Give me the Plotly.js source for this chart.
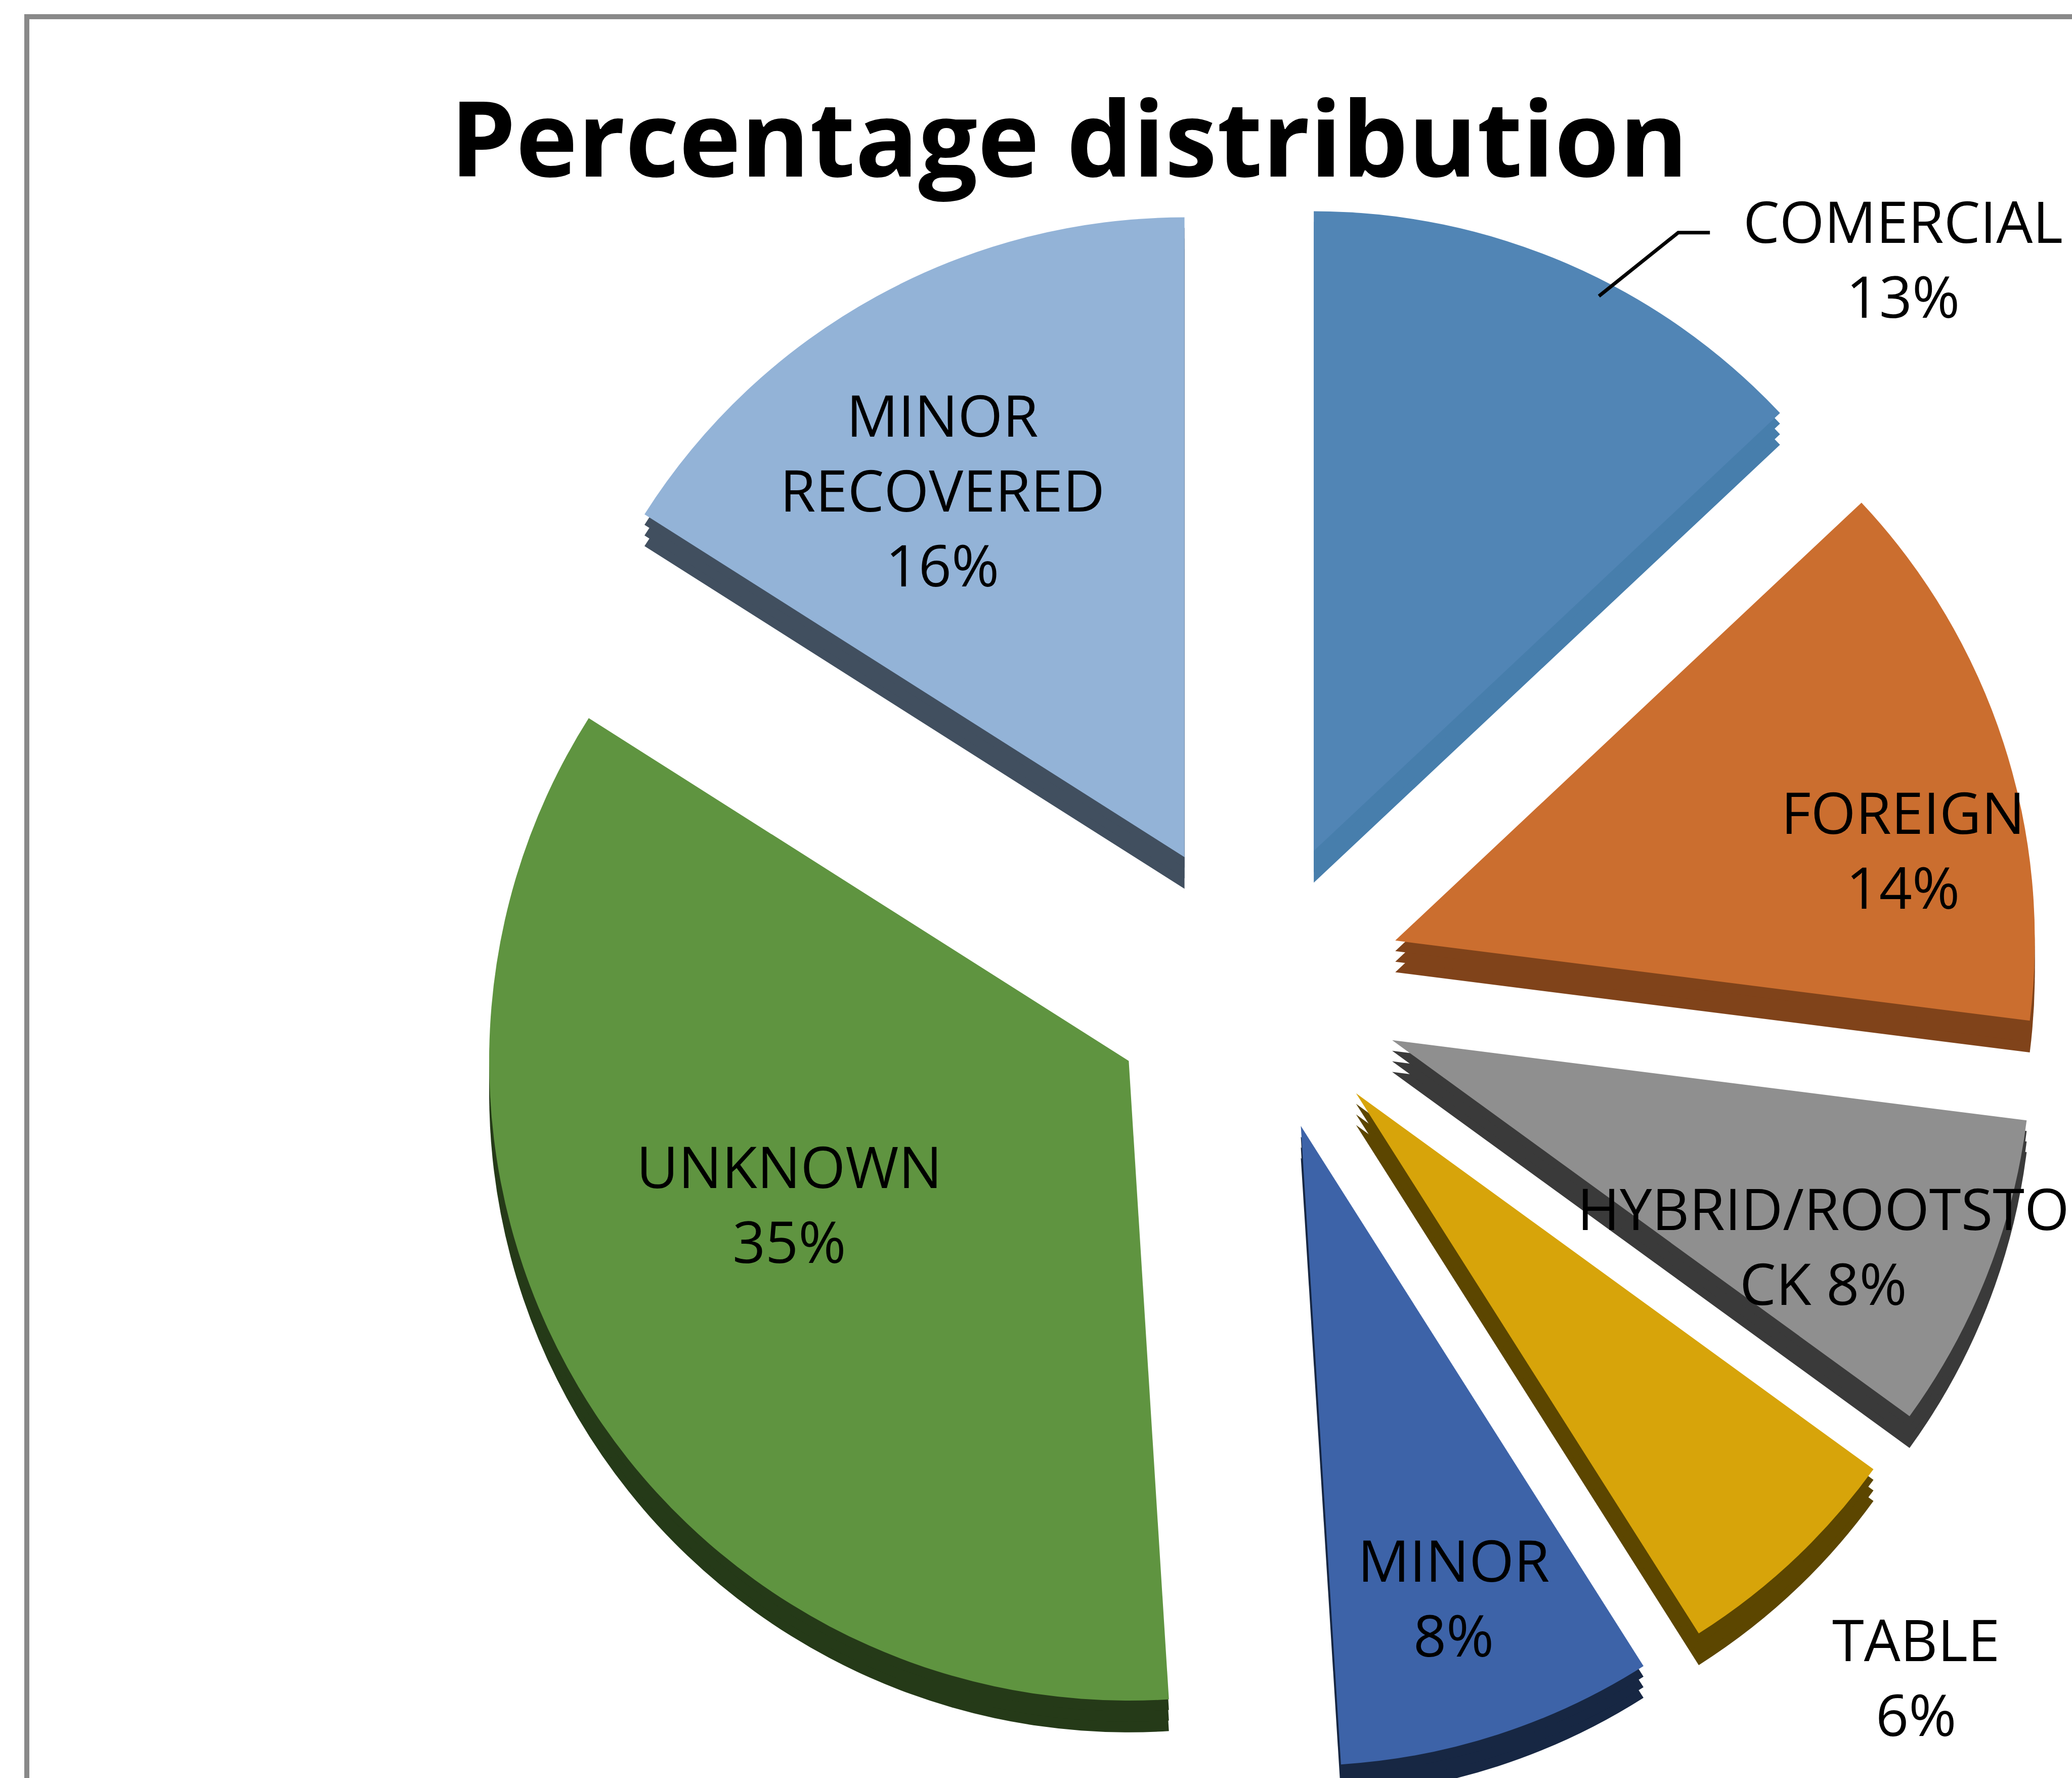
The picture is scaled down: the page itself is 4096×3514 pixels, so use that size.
<!DOCTYPE html>
<html>
<head>
<meta charset="utf-8">
<script src="https://cdn.plot.ly/plotly-3.0.1.min.js"></script>
<style>
  html, body { margin: 0; padding: 0; overflow: hidden; background: #ffffff; }
  #chart { width: 4096px; height: 3700px; }
</style>
</head>
<body>
<div id="chart"></div>
<script>
// ---- data ----
const chartTitle = 'Percentage distribution';
const categories = ['COMERCIAL', 'FOREIGN', 'HYBRID/ROOTSTOCK', 'TABLE', 'MINOR', 'UNKNOWN', 'MINOR RECOVERED'];
const values = [13, 14, 8, 6, 8, 35, 16];
const labelText = ['COMERCIAL<br>', 'FOREIGN<br>', 'HYBRID/ROOTSTO<br>CK ', 'TABLE<br>', 'MINOR<br>', 'UNKNOWN<br>', 'MINOR<br>RECOVERED<br>'];
const topColors = ['#5185B5', '#CB6E2F', '#8F8F8F', '#D7A40A', '#3D63A8', '#5F9440', '#93B3D7'];
const sideColors = ['#477EAC', '#80431A', '#3A3A3A', '#5C4600', '#172743', '#253A18', '#414F5F'];

// ---- layout geometry (reference pixels at 1568 wide, scaled) ----
const W = 4096, H = 3700;
const s = 4096 / 1568;
const pieCx = 950, pieCy = 746, pieR = 484, pullFrac = 0.23, depth = 24;
const labelPos = [[1440, 195], [1440, 642], [1380, 942], [1450, 1268], [1100, 1208], [597, 910], [713, 370]];

function px(x) { return x * s / W; }
function py(y) { return 1 - (y * s) / H; }

function pieDomain(cyShift) {
  const half = pieR * (1 + pullFrac);
  return {
    x: [px(pieCx - half), px(pieCx + half)],
    y: [py(pieCy + cyShift + half), py(pieCy + cyShift - half)]
  };
}

function pieTrace(colors, shift) {
  return {
    type: 'pie',
    labels: categories,
    values: values,
    sort: false,
    direction: 'clockwise',
    rotation: 0,
    pull: values.map(() => pullFrac),
    marker: { colors: colors, line: { width: 0 } },
    textinfo: 'none',
    hoverinfo: 'label+percent',
    showlegend: false,
    domain: pieDomain(shift)
  };
}

const traces = [
  pieTrace(sideColors, depth),
  pieTrace(sideColors, depth * 2 / 3),
  pieTrace(sideColors, depth / 3),
  pieTrace(topColors, 0)
];

const annotations = categories.map((c, i) => ({
  text: labelText[i] + values[i] + '%',
  x: px(labelPos[i][0]),
  y: py(labelPos[i][1]),
  xref: 'paper', yref: 'paper',
  xanchor: 'center', yanchor: 'middle',
  showarrow: false,
  align: 'center',
  font: { family: 'Open Sans, sans-serif', size: 114, color: '#000000' }
}));

const leader = [[1210, 224], [1270, 176], [1294, 176]];
const leaderPath = 'M ' + leader.map(p => px(p[0]) + ',' + py(p[1])).join(' L ');

const layout = {
  width: W,
  height: H,
  margin: { l: 0, r: 0, t: 0, b: 0 },
  paper_bgcolor: '#ffffff',
  plot_bgcolor: '#ffffff',
  showlegend: false,
  title: {
    text: '<b>' + chartTitle + '</b>',
    font: { family: 'Open Sans, sans-serif', size: 207, color: '#000000' },
    x: px(809), xref: 'paper', xanchor: 'center',
    y: 1 - 277 / H, yref: 'container', yanchor: 'middle'
  },
  annotations: annotations,
  shapes: [
    {
      type: 'rect', xref: 'paper', yref: 'paper',
      x0: 53 / W, y0: -0.5, x1: 1.5, y1: 1 - 33 / H,
      line: { color: '#898989', width: 10 }, fillcolor: 'rgba(0,0,0,0)'
    },
    {
      type: 'path', xref: 'paper', yref: 'paper',
      path: leaderPath,
      line: { color: '#000000', width: 7 }
    }
  ]
};

Plotly.newPlot('chart', traces, layout, { staticPlot: true, displayModeBar: false });
</script>
</body>
</html>
